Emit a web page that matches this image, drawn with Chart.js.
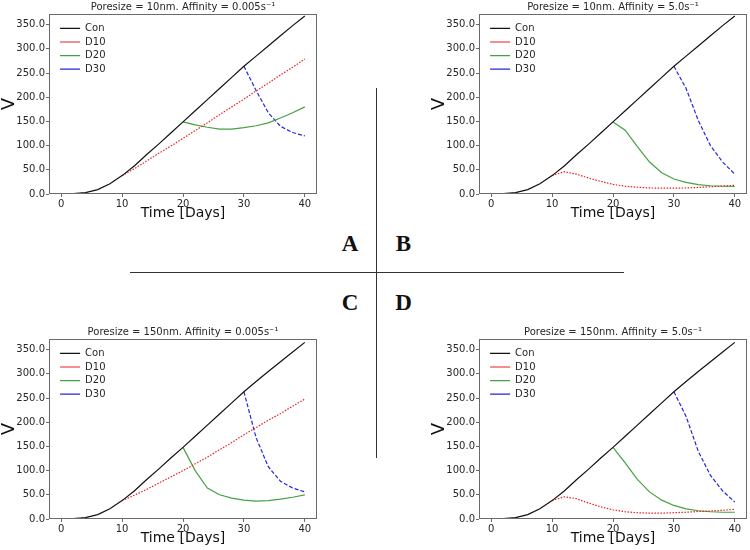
<!DOCTYPE html>
<html>
<head>
<meta charset="utf-8">
<script src="https://cdn.jsdelivr.net/npm/chart.js@4.4.1/dist/chart.umd.min.js"></script>
<style>
  html, body { margin:0; padding:0; background:#fff; }
  body { width:750px; height:550px; position:relative; overflow:hidden; }
  canvas { position:absolute; }
  .ln { position:absolute; background:#333; }
  .lt { position:absolute; font-family:"Liberation Serif","DejaVu Serif",serif; font-weight:bold; font-size:23px; line-height:1; color:#111; transform:translate(-50%,-50%); }
</style>
</head>
<body>
<canvas id="cA" width="317" height="222" style="left:0px;top:0px"></canvas>
<canvas id="cB" width="317" height="222" style="left:430px;top:0px"></canvas>
<canvas id="cC" width="317" height="222" style="left:0px;top:325px"></canvas>
<canvas id="cD" width="317" height="222" style="left:430px;top:325px"></canvas>

<div class="ln" style="left:376px;top:88px;width:1.4px;height:370px"></div>
<div class="ln" style="left:130px;top:272px;width:494px;height:1.4px"></div>
<div class="lt" style="left:350px;top:242.5px">A</div>
<div class="lt" style="left:403.5px;top:242.5px">B</div>
<div class="lt" style="left:350px;top:302px">C</div>
<div class="lt" style="left:403.5px;top:302px">D</div>

<script>
// ---------------- data ----------------
const days   = [0,2,4,6,8,10,12,14,16,18,20,22,24,26,28,30,32,34,36,38,40];
const xTicks = [0,10,20,30,40];
const yTicks = [0,50,100,150,200,250,300,350];
const seriesNames = ['Con','D10','D20','D30'];

const titleA = 'Poresize = 10nm. Affinity = 0.005s\u207B\u00B9';
const titleB = 'Poresize = 10nm. Affinity = 5.0s\u207B\u00B9';
const titleC = 'Poresize = 150nm. Affinity = 0.005s\u207B\u00B9';
const titleD = 'Poresize = 150nm. Affinity = 5.0s\u207B\u00B9';

const N5 = [null,null,null,null,null];
const N10 = N5.concat(N5);
const N15 = N10.concat(N5);

// Panel A
const conA = [0,1,3,9,21,38,58,81,103,126,149,172,195,218,241,264,285,306,327,348,368];
const d10A = N5.concat([38,52,68,84,99,115,131,147,164,180,196,213,229,246,262,279]);
const d20A = N10.concat([149,143,138,134,134,137,141,147,157,168,180]);
const d30A = N15.concat([264,214,168,140,127,120]);
// Panel B
const conB = [0,1,3,9,21,38,58,81,103,126,149,172,195,218,241,264,285,306,327,348,368];
const d10B = N5.concat([38,46,41,33,26,20,16,14,12.5,12,12,12.5,13.5,15,16.5,18]);
const d20B = N10.concat([149,132,98,66,44,31,24,19.5,17,16,15.5]);
const d30B = N15.concat([264,218,152,100,66,41]);
// Panel C
const conC = [0,1,3,9,21,38,58,81,103,126,148,171,194,217,240,263,284,305,325,345,365];
const d10C = N5.concat([38,49,61,74,87,100,114,128,143,158,174,189,204,218,233,248]);
const d20C = N10.concat([148,100,64,50,43,39,37,38,41,45,50]);
const d30C = N15.concat([263,168,108,78,64,56]);
// Panel D
const conD = [0,1,3,9,21,38,58,81,103,126,148,171,194,217,240,263,284,305,325,345,365];
const d10D = N5.concat([38,46,42,33,25,19,15,13,12,12,13,14,15.5,16.5,18,20]);
const d20D = N10.concat([148,116,82,56,39,28,21,17,15,14,14]);
const d30D = N15.concat([263,212,140,90,58,35]);

// ---------------- styling ----------------
const FONT = '"DejaVu Sans", "Noto Sans", sans-serif';
const TXT = '#262626';
const AXC = '#6a6a6a';
const styles = [
  { color:'#111111', dash:[] },
  { color:'#e82020', dash:[1.5,1.5] },
  { color:'#45a045', dash:[] },
  { color:'#2525e0', dash:[4,2] }
];

const framePlugin = {
  id:'frame',
  afterDraw(chart){
    const a = chart.chartArea, ctx = chart.ctx;
    ctx.save();
    ctx.strokeStyle = AXC; ctx.lineWidth = 1;
    const l = Math.round(a.left)+0.5, t = Math.round(a.top)+0.5;
    const r = Math.round(a.right)-0.5, b = Math.round(a.bottom)-0.5;
    ctx.strokeRect(l, t, r-l, b-t);
    ctx.restore();
  }
};
const legendPos = {
  id:'legendPos',
  afterLayout(chart){
    const lg = chart.legend, a = chart.chartArea;
    if (!lg) return;
    lg.left = a.left + 7.5; lg.top = a.top + 5.8;
    lg.right = a.right; lg.bottom = a.bottom;
  }
};

function toXY(arr){
  const out = [];
  arr.forEach((v,i)=>{ if (v !== null) out.push({x:days[i], y:v}); });
  return out;
}

function makePanel(id, title, series){
  const datasets = series.map((arr,k)=>({
    label: seriesNames[k],
    data: toXY(arr),
    borderColor: styles[k].color,
    backgroundColor: styles[k].color,
    borderDash: styles[k].dash,
    borderWidth: 1.2,
    pointRadius: 0,
    pointStyle: 'line',
    tension: 0,
    fill: false
  }));
  return new Chart(document.getElementById(id), {
    type:'line',
    data:{ datasets },
    plugins:[framePlugin, legendPos],
    options:{
      responsive:false,
      animation:false,
      devicePixelRatio:1,
      layout:{ padding:0 },
      plugins:{
        title:{ display:true, text:title, fullSize:false, color:TXT,
                font:{ family:FONT, size:10, weight:'normal', lineHeight:1.2 },
                padding:{ top:1, bottom:1 } },
        legend:{ display:true, position:'chartArea', align:'start',
                 labels:{ usePointStyle:true, pointStyle:'line', pointStyleWidth:20,
                          font:{ family:FONT, size:10 }, color:TXT, padding:3.6 } },
        tooltip:{ enabled:false }
      },
      scales:{
        x:{
          type:'linear', min:-2, max:42,
          afterBuildTicks: s => { s.ticks = xTicks.map(v=>({value:v})); },
          afterFit: s => { s.height = 28; },
          ticks:{ font:{ family:FONT, size:10 }, color:TXT, padding:1, maxRotation:0 },
          grid:{ drawOnChartArea:false, drawTicks:true, tickLength:3, color:AXC },
          border:{ display:false },
          title:{ display:true, text:'Time [Days]', color:'#111',
                  font:{ family:FONT, size:14, lineHeight:1.2 }, padding:{ top:0, bottom:0 } }
        },
        y:{
          type:'linear', min:0, max:372,
          afterBuildTicks: s => { s.ticks = yTicks.map(v=>({value:v})); },
          afterFit: s => { s.width = 49; },
          ticks:{ font:{ family:FONT, size:10 }, color:TXT, padding:1,
                  callback: v => Number(v).toFixed(1) },
          grid:{ drawOnChartArea:false, drawTicks:true, tickLength:3, color:AXC },
          border:{ display:false },
          title:{ display:true, text:'V', color:'#111',
                  font:{ family:FONT, size:18, lineHeight:1 }, padding:{ top:0, bottom:0 } }
        }
      }
    }
  });
}

makePanel('cA', titleA, [conA, d10A, d20A, d30A]);
makePanel('cB', titleB, [conB, d10B, d20B, d30B]);
makePanel('cC', titleC, [conC, d10C, d20C, d30C]);
makePanel('cD', titleD, [conD, d10D, d20D, d30D]);
</script>
</body>
</html>
